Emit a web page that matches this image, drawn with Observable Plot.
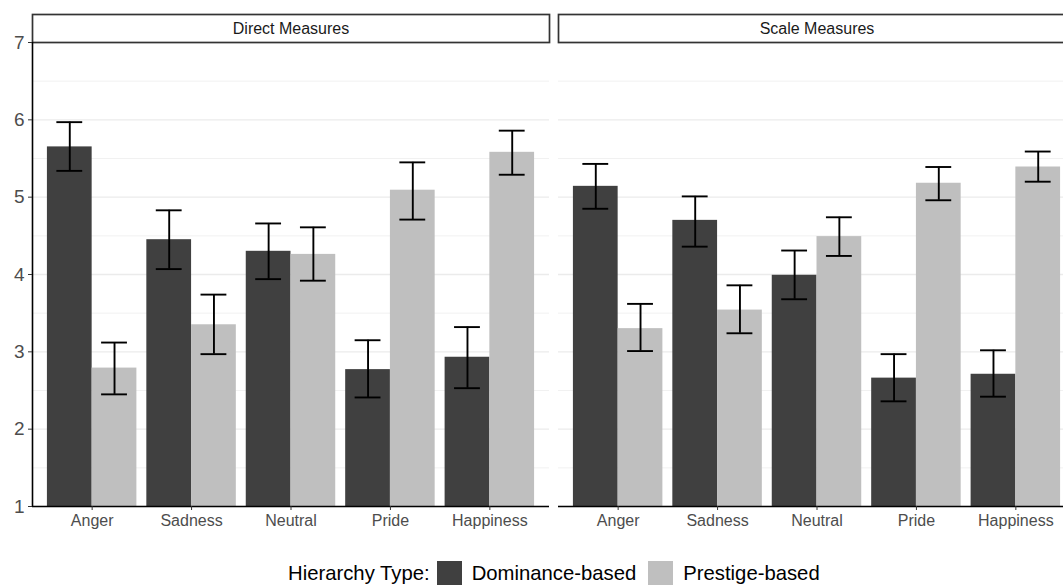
<!DOCTYPE html>
<html>
<head>
<meta charset="utf-8">
<script src="https://cdn.jsdelivr.net/npm/d3@7"></script>
<script src="https://cdn.jsdelivr.net/npm/@observablehq/plot@0.6"></script>
<style>
  html, body { margin: 0; padding: 0; background: white; overflow: hidden; }
  #wrap { width: 1063px; height: 585px; overflow: hidden; position: relative; font-family: "Liberation Sans", Arial, Helvetica, sans-serif; }
  #chart svg { max-width: none !important; }
  #legend { position: absolute; left: 288px; top: 561px; height: 24px; display: flex; align-items: center; font-size: 20.3px; color: #000; white-space: nowrap; }
  #legend .sw { width: 25px; height: 24px; display: inline-block; }
</style>
</head>
<body>
<div id="wrap">
  <div id="chart"></div>
  <div id="legend"></div>
</div>
<script>
const emotions = ["Anger", "Sadness", "Neutral", "Pride", "Happiness"];
const panels = ["Direct Measures", "Scale Measures"];
const types = ["Dominance-based", "Prestige-based"];
const legendTitle = "Hierarchy Type:";
const yTicks = [1, 2, 3, 4, 5, 6, 7];
const yMinor = [1.5, 2.5, 3.5, 4.5, 5.5, 6.5];

const directDom   = [5.65, 4.45, 4.30, 2.77, 2.93];
const directDomLo = [5.34, 4.07, 3.94, 2.41, 2.53];
const directDomHi = [5.97, 4.83, 4.66, 3.15, 3.32];
const directPres   = [2.79, 3.35, 4.26, 5.09, 5.58];
const directPresLo = [2.45, 2.97, 3.92, 4.71, 5.29];
const directPresHi = [3.12, 3.74, 4.61, 5.45, 5.86];
const scaleDom   = [5.14, 4.70, 3.99, 2.66, 2.71];
const scaleDomLo = [4.85, 4.36, 3.68, 2.36, 2.42];
const scaleDomHi = [5.43, 5.01, 4.31, 2.97, 3.02];
const scalePres   = [3.30, 3.54, 4.49, 5.18, 5.39];
const scalePresLo = [3.01, 3.24, 4.24, 4.96, 5.20];
const scalePresHi = [3.62, 3.86, 4.74, 5.39, 5.59];

const colors = ["#404040", "#bfbfbf"];

// build table
const series = [
  [panels[0], types[0], directDom, directDomLo, directDomHi],
  [panels[0], types[1], directPres, directPresLo, directPresHi],
  [panels[1], types[0], scaleDom, scaleDomLo, scaleDomHi],
  [panels[1], types[1], scalePres, scalePresLo, scalePresHi]
];
const data = [];
for (const [panel, type, v, lo, hi] of series) {
  emotions.forEach((e, i) => data.push({panel, type, emotion: e, i, value: v[i], lo: lo[i], hi: hi[i]}));
}
// ggplot-style dodge: group width 0.9, two bars
const dodgeW = 0.9, barW = dodgeW / 2, capHalf = 0.13;
const center = d => d.i + (d.type === types[0] ? -barW / 2 : barW / 2);
const xDomain = [-0.6, emotions.length - 1 + 0.6];

const chart = Plot.plot({
  width: 1075,
  height: 535,
  marginLeft: 32,
  marginRight: 0,
  marginTop: 42,
  marginBottom: 29,
  style: {fontFamily: "'Liberation Sans', Arial, Helvetica, sans-serif", background: "white", overflow: "visible", maxWidth: "none"},
  fx: {domain: panels, paddingInner: 9 / 526, paddingOuter: 0, round: false, axis: null, label: null},
  x: {domain: xDomain, axis: null},
  y: {domain: [1, 7], axis: null},
  color: {domain: types, range: colors},
  marks: [
    Plot.gridY(yMinor, {stroke: "#ebebeb", strokeOpacity: 1, strokeWidth: 0.7}),
    Plot.gridY(yTicks, {stroke: "#ebebeb", strokeOpacity: 1, strokeWidth: 1.3}),
    Plot.rectY(data, {fx: "panel", x1: d => center(d) - barW / 2, x2: d => center(d) + barW / 2, y1: 1, y2: "value", fill: "type"}),
    Plot.ruleX(data, {fx: "panel", x: center, y1: "lo", y2: "hi", stroke: "#000", strokeWidth: 1.9}),
    Plot.ruleY(data, {fx: "panel", y: "hi", x1: d => center(d) - capHalf, x2: d => center(d) + capHalf, stroke: "#000", strokeWidth: 1.9}),
    Plot.ruleY(data, {fx: "panel", y: "lo", x1: d => center(d) - capHalf, x2: d => center(d) + capHalf, stroke: "#000", strokeWidth: 1.9}),
    // strips
    Plot.frame({insetTop: -28, insetBottom: 464, stroke: "#333", strokeWidth: 1.7, fill: "white"}),
    Plot.text(panels, {fx: d => d, text: d => d, frameAnchor: "top", lineAnchor: "middle", dy: -13.5, fontSize: 16, fill: "#1a1a1a"}),
    // axis lines
    Plot.ruleY([1], {stroke: "#000", strokeWidth: 1.6}),
    Plot.ruleX([panels[0]], {fx: d => d, x: () => xDomain[0], y1: () => 1, y2: () => 7, stroke: "#000", strokeWidth: 1.6}),
    Plot.axisY(yTicks, {tickFormat: d => String(d), fontSize: 19, fill: "#4d4d4d", stroke: "#333", tickSize: 4, tickPadding: 4, label: null}),
    Plot.axisX(emotions.map((e, i) => i), {tickFormat: i => emotions[i], fontSize: 16, fill: "#4d4d4d", stroke: "#333", tickSize: 4, tickPadding: 4, label: null})
  ]
});
document.getElementById("chart").appendChild(chart);

// legend
const lg = document.getElementById("legend");
const title = document.createElement("span");
title.textContent = legendTitle;
title.style.marginRight = "7px";
lg.appendChild(title);
types.forEach((t, k) => {
  const sw = document.createElement("span");
  sw.className = "sw";
  sw.style.background = colors[k];
  sw.style.marginRight = "10px";
  lg.appendChild(sw);
  const lab = document.createElement("span");
  lab.textContent = t;
  lab.style.marginRight = "12px";
  lg.appendChild(lab);
});
</script>
</body>
</html>
